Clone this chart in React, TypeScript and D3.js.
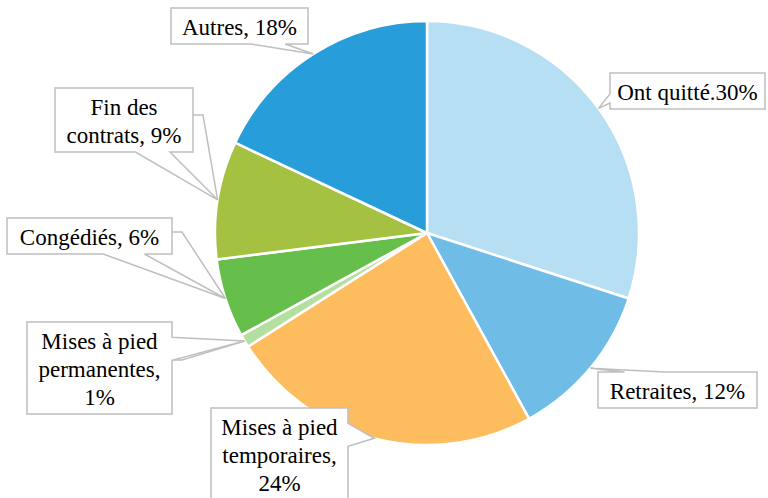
import * as d3 from 'd3'

const W = 768
const H = 498

// slice data, clockwise from 12 o'clock
const categories = [
  'Ont quitté',
  'Retraites',
  'Mises à pied temporaires',
  'Mises à pied permanentes',
  'Congédiés',
  'Fin des contrats',
  'Autres',
]
const shares = [30, 12, 24, 1, 6, 9, 18]
const colors = ['#b7dff3', '#6fbde6', '#fdbd5f', '#b3e09f', '#66bf4a', '#a5c142', '#279dd9']

// label text, one entry per line
const labelLines = [
  ['Ont quitté.30%'],
  ['Retraites, 12%'],
  ['Mises à pied', 'temporaires,', '24%'],
  ['Mises à pied', 'permanentes,', '1%'],
  ['Congédiés, 6%'],
  ['Fin des', 'contrats, 9%'],
  ['Autres, 18%'],
]

// callout box layout: x, y, width; leader = y offset on right edge (or null)
const boxes = [
  { x: 610, y: 73, w: 155, leader: null },
  { x: 598, y: 372, w: 159, leader: null },
  { x: 211, y: 408, w: 137, leader: null },
  { x: 27, y: 322, w: 145, leader: 38 },
  { x: 7, y: 218, w: 165, leader: 14 },
  { x: 55, y: 88, w: 138, leader: 27 },
  { x: 171, y: 8, w: 137, leader: null },
]

const LINE_H = 28
const CX = 427
const CY = 233
const RADIUS = 212
const GRAY = '#bfbfbf'

// OOXML wedgeRectCallout outline
function calloutPath(l: number, t: number, w: number, h: number, px: number, py: number) {
  const r = l + w
  const b = t + h
  const dxPos = px - (l + w / 2)
  const dyPos = py - (t + h / 2)
  const dq = (dxPos * h) / w
  const dz = Math.abs(dyPos) - Math.abs(dq)
  const x1 = l + (w * (dxPos > 0 ? 7 : 2)) / 12
  const x2 = l + (w * (dxPos > 0 ? 10 : 5)) / 12
  const y1 = t + (h * (dyPos > 0 ? 7 : 2)) / 12
  const y2 = t + (h * (dyPos > 0 ? 10 : 5)) / 12
  const pick = (c: number, a: number, bb: number) => (c > 0 ? a : bb)
  const xl = pick(dz, l, pick(dxPos, l, px))
  const xt = pick(dz, pick(dyPos, x1, px), x1)
  const xr = pick(dz, r, pick(dxPos, px, r))
  const xb = pick(dz, pick(dyPos, px, x1), x1)
  const yl = pick(dz, y1, pick(dxPos, y1, py))
  const yt = pick(dz, pick(dyPos, t, py), t)
  const yr = pick(dz, y1, pick(dxPos, py, y1))
  const yb = pick(dz, pick(dyPos, py, b), b)
  const pts: [number, number][] = [
    [l, t], [x1, t], [xt, yt], [x2, t], [r, t],
    [r, y1], [xr, yr], [r, y2], [r, b],
    [x2, b], [xb, yb], [x1, b], [l, b],
    [l, y2], [xl, yl], [l, y1],
  ]
  return 'M' + pts.map(p => p.join(',')).join('L') + 'Z'
}

export default function App() {
  const data = categories.map((c, i) => ({ name: c, value: shares[i], i }))
  const arcs = d3.pie<typeof data[number]>().sort(null).value(d => d.value)(data)
  const arc = d3.arc<d3.PieArcDatum<typeof data[number]>>().innerRadius(0).outerRadius(RADIUS)

  // tip of each callout at the mid angle on the rim
  const tips = arcs.map(a => {
    const m = (a.startAngle + a.endAngle) / 2
    return [CX + RADIUS * Math.sin(m), CY - RADIUS * Math.cos(m)]
  })

  return (
    <svg
      width={W}
      height={H}
      style={{ display: 'block', background: '#fff', position: 'absolute', left: 0, top: 0 }}
    >
      <g transform={`translate(${CX},${CY})`}>
        {arcs.map(a => (
          <path
            key={a.data.name}
            d={arc(a) || ''}
            fill={colors[a.data.i]}
            stroke="#fff"
            strokeWidth={2.5}
            strokeLinejoin="round"
          />
        ))}
      </g>

      {/* leader lines */}
      {boxes.map((bx, i) => {
        if (bx.leader == null) return null
        const r = bx.x + bx.w
        const y = bx.y + bx.leader
        return (
          <path
            key={'lead' + i}
            d={`M${r},${y}L${r + 10},${y}L${tips[i][0]},${tips[i][1]}`}
            fill="none"
            stroke={GRAY}
            strokeWidth={1.5}
          />
        )
      })}

      {/* callout shapes */}
      {boxes.map((bx, i) => (
        <path
          key={'box' + i}
          d={calloutPath(bx.x, bx.y, bx.w, labelLines[i].length * LINE_H + 8, tips[i][0], tips[i][1])}
          fill="#fff"
          stroke={GRAY}
          strokeWidth={1.5}
        />
      ))}

      {/* label text, one element per line */}
      {boxes.map((bx, i) =>
        labelLines[i].map((ln, k) => (
          <text
            key={'t' + i + '-' + k}
            x={bx.x + bx.w / 2}
            y={bx.y + 27 + k * LINE_H}
            textAnchor="middle"
            fontFamily="Times New Roman, Liberation Serif, Tinos, serif"
            fontSize={23}
          >
            {ln}
          </text>
        ))
      )}
    </svg>
  )
}
